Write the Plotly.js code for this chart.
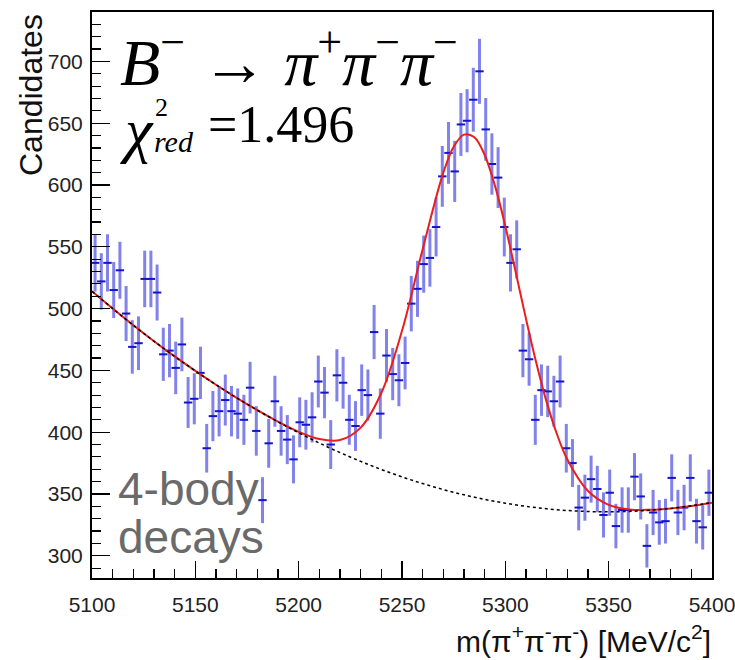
<!DOCTYPE html>
<html>
<head>
<meta charset="utf-8">
<script src="https://cdn.plot.ly/plotly-3.0.1.min.js"></script>
<style>html,body{margin:0;padding:0;background:#fff;}</style>
</head>
<body>
<div id="chart" style="width:735px;height:660px;"></div>
<script>
// Histogram: 100 bins of 3 MeV/c^2 from 5100 to 5400 (candidates per bin)
const binStart = 5100;
const binWidth = 3;
const counts = [
  537, 522, 537, 515, 531, 496, 469, 472, 524, 524,
  513, 463, 466, 452, 471, 424, 427, 448, 387, 413,
  417, 426, 417, 415, 410, 436, 401, 345, 391, 425,
  401, 394, 378, 408, 406, 412, 441, 432, 390, 446,
  440, 410, 405, 434, 430, 481, 415, 462, 447, 442,
  456, 504, 516, 536, 541, 566, 607, 626, 611, 649,
  652, 669, 692, 645, 617, 606, 566, 537, 548, 466,
  459, 410, 434, 433, 425, 441, 387, 375, 339, 347,
  362, 354, 333, 351, 324, 337, 337, 364, 348, 308,
  335, 327, 328, 363, 335, 339, 363, 328, 323, 351
];

// Total fit curve
const fitX = [5100,5110,5120,5130,5140,5150,5160,5170,5180,5190,5200,5210,5220,5230,5240,5250,5260,5270,5275,5280,5285,5290,5295,5300,5305,5310,5315,5320,5325,5330,5340,5350,5360,5370,5380,5390,5400];
const fitY = [514,500,486.5,473.6,461.3,449.6,438.4,427.8,417.8,408.5,400.3,394.4,393.6,403.7,431.7,482,548,610,631,640.8,638.7,624.3,599.3,566.7,529.6,491.7,456,424.3,398.3,377.9,352.4,341.2,337.5,337.2,338.3,340.3,343];

// Background component (dashed)
const bkgX = [5100,5120,5140,5160,5180,5200,5220,5240,5260,5280,5300,5320,5340,5360,5380,5400];
const bkgY = [514,486.5,461.3,438.4,417.8,399.5,383.5,369.8,358.4,349.3,342.5,338,335.8,335.9,338.3,343];

const xTickVals = [5100, 5150, 5200, 5250, 5300, 5350, 5400];
const yTickVals = [300, 350, 400, 450, 500, 550, 600, 650, 700];

const xTitle = 'm(π<sup>+</sup>π<sup>-</sup>π<sup>-</sup>) [MeV/c<sup>2</sup>]';
const yTitle = 'Candidates';

const sans = 'Liberation Sans, Arial, Helvetica, sans-serif';
const serif = 'Liberation Serif, Times New Roman, serif';

const L = 92, R = 23, T = 12, B = 82, W = 735, H = 660;
const pw = W - L - R, ph = H - T - B;
function px2x(px){ return (px - L) / pw; }
function py2y(py){ return (H - B - py) / ph; }

const traces = [
  {
    type: 'scatter', mode: 'markers',
    x0: binStart + binWidth / 2, dx: binWidth, y: counts,
    marker: {symbol: 'line-ew', size: 6, color: 'rgb(20,20,200)', line: {width: 2, color: 'rgb(20,20,200)'}},
    error_y: {type: 'sqrt', visible: true, thickness: 3, width: 0, color: 'rgba(95,95,230,0.78)'},
    hoverinfo: 'x+y', showlegend: false
  },
  {
    type: 'scatter', mode: 'lines', x: fitX, y: fitY,
    line: {color: 'rgb(235,30,30)', width: 2, shape: 'spline', smoothing: 1},
    showlegend: false
  },
  {
    type: 'scatter', mode: 'lines', x: bkgX, y: bkgY,
    line: {color: 'black', width: 1.5, dash: '3px,3px', shape: 'spline', smoothing: 1},
    showlegend: false
  }
];

const sup = s => '<sup><span style="font-size:44px">' + s + '</span></sup>';
const pi = '<i>π</i>';

const layout = {
  width: W, height: H,
  margin: {l: L, r: R, t: T, b: B},
  paper_bgcolor: 'white', plot_bgcolor: 'white',
  showlegend: false,
  xaxis: {
    range: [5100, 5400], tickmode: 'array', tickvals: xTickVals,
    ticks: 'inside', ticklen: 17, tickwidth: 1.2, tickcolor: 'black',
    minor: {dtick: 10, tick0: 5100, ticks: 'inside', ticklen: 9, tickwidth: 1.2, tickcolor: 'black', showgrid: false},
    showline: true, linecolor: 'black', linewidth: 2, mirror: true,
    showgrid: false, zeroline: false,
    tickfont: {family: sans, size: 21, color: '#222'},
    ticklabelstandoff: 7, ticklabeloverflow: 'allow'
  },
  yaxis: {
    range: [282, 740], tickmode: 'array', tickvals: yTickVals,
    ticks: 'inside', ticklen: 18, tickwidth: 1.2, tickcolor: 'black',
    minor: {dtick: 10, tick0: 300, ticks: 'inside', ticklen: 9, tickwidth: 1.2, tickcolor: 'black', showgrid: false},
    showline: true, linecolor: 'black', linewidth: 2, mirror: true,
    showgrid: false, zeroline: false,
    tickfont: {family: sans, size: 21, color: '#222'},
    ticklabelstandoff: 3
  },
  annotations: [
    {xref: 'paper', yref: 'paper', x: px2x(118), y: py2y(58), xanchor: 'left', yanchor: 'middle', showarrow: false,
     text: '<i>B</i>' + sup('−') + ' → ' + pi + sup('+') + pi + sup('−') + pi + sup('−'),
     font: {family: serif, size: 66, color: 'black'}},
    {xref: 'paper', yref: 'paper', x: px2x(118), y: py2y(130), xanchor: 'left', yanchor: 'middle', showarrow: false,
     text: '<i>χ</i>', font: {family: serif, size: 62, color: 'black'}},
    {xref: 'paper', yref: 'paper', x: px2x(153), y: py2y(108), xanchor: 'left', yanchor: 'middle', showarrow: false,
     text: '2', font: {family: serif, size: 26, color: 'black'}},
    {xref: 'paper', yref: 'paper', x: px2x(152), y: py2y(142), xanchor: 'left', yanchor: 'middle', showarrow: false,
     text: '<i>red</i>', font: {family: serif, size: 30, color: 'black'}},
    {xref: 'paper', yref: 'paper', x: px2x(206), y: py2y(125), xanchor: 'left', yanchor: 'middle', showarrow: false,
     text: '=1.496', font: {family: serif, size: 52, color: 'black'}},
    {xref: 'paper', yref: 'paper', x: px2x(116), y: py2y(489), xanchor: 'left', yanchor: 'middle', showarrow: false,
     text: '4-body', font: {family: sans, size: 46, color: '#6a6a6a'}},
    {xref: 'paper', yref: 'paper', x: px2x(116), y: py2y(537), xanchor: 'left', yanchor: 'middle', showarrow: false,
     text: 'decays', font: {family: sans, size: 46, color: '#6a6a6a'}},
    {xref: 'paper', yref: 'paper', x: px2x(31), y: py2y(12), xanchor: 'center', yanchor: 'top', showarrow: false,
     textangle: -90, text: yTitle, font: {family: sans, size: 32, color: '#111'}},
    {xref: 'paper', yref: 'paper', x: px2x(713), y: py2y(639), xanchor: 'right', yanchor: 'middle', showarrow: false,
     text: xTitle, font: {family: sans, size: 30, color: '#111'}}
  ]
};

Plotly.newPlot('chart', traces, layout, {staticPlot: true, displayModeBar: false});
</script>
</body>
</html>
